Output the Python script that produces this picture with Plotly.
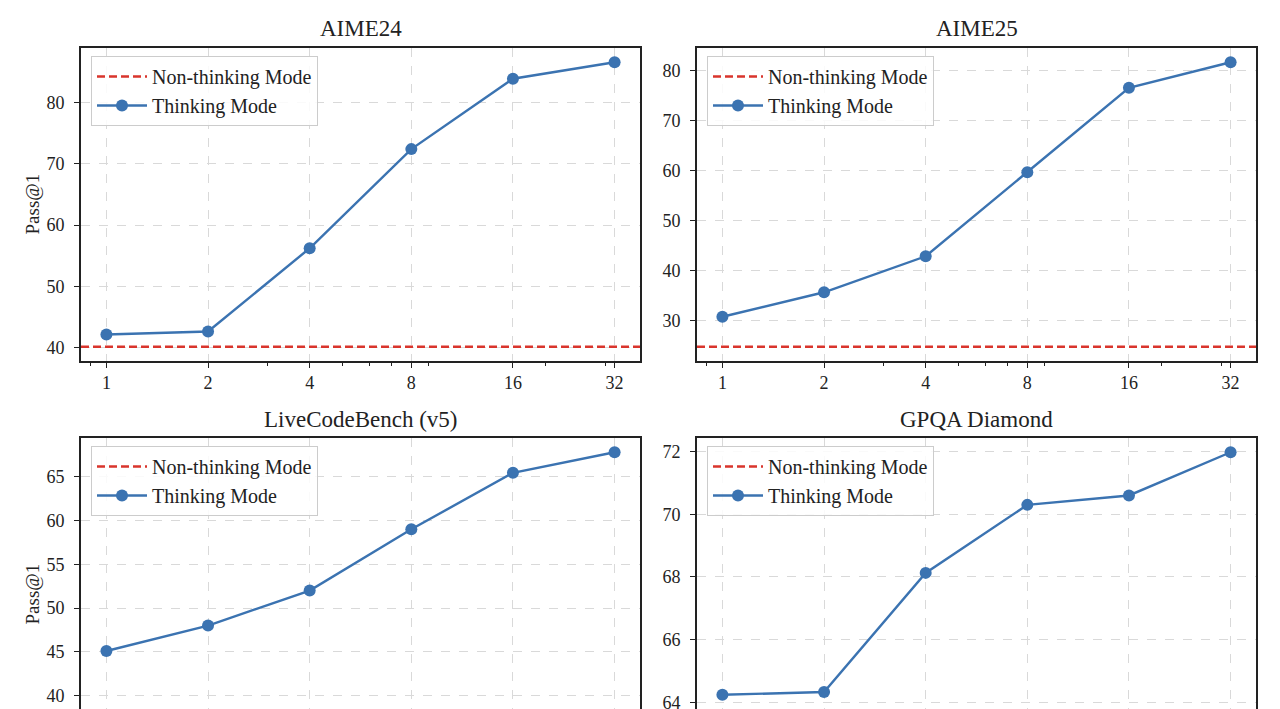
import math
import plotly.graph_objects as go

# ---------------- data ----------------
budgets = [1, 2, 4, 8, 16, 32]
budget_labels = ["1", "2", "4", "8", "16", "32"]
minor_tick_vals = [0.9, 3, 5, 6, 7, 9, 20, 30]

titles = ["AIME24", "AIME25", "LiveCodeBench (v5)", "GPQA Diamond"]
aime24_thinking = [42.1, 42.6, 56.2, 72.4, 83.9, 86.6]
aime25_thinking = [30.7, 35.6, 42.8, 59.6, 76.5, 81.6]
lcb_thinking = [45.1, 48.0, 52.0, 59.0, 65.45, 67.8]
gpqa_thinking = [64.24, 64.33, 68.13, 70.3, 70.6, 71.98]
non_thinking = [40.1, 24.7, 35.3, 62.9]
y_dticks = [10, 10, 5, 2]

thinking_series = [aime24_thinking, aime25_thinking, lcb_thinking, gpqa_thinking]

# ---------------- style ----------------
W, H = 1280, 709
OFF = 8  # page body margin: figure starts at (8, 8) on screen
BLUE = "#3b73b1"
RED = "#d9352c"
GRID = "#d9d9d9"
FRAME = "#222222"
FONT = "Liberation Serif"

# pixel layout of the panels on screen (left, right, top, bottom)
FULL_H = 313
panels_px = [
    (81, 640, 48, 361),
    (697, 1256, 48, 361),
    (81, 640, 438, 438 + FULL_H),
    (697, 1256, 438, 438 + FULL_H),
]

fig = go.Figure()

lx = [math.log2(b) for b in budgets]
lpad = 0.05 * (max(lx) - min(lx))
xrange_log10 = [(min(lx) - lpad) * math.log10(2), (max(lx) + lpad) * math.log10(2)]

legend_names = ["legend", "legend2", "legend3", "legend4"]

for i in range(4):
    L, R, T, B = [v - OFF for v in panels_px[i]]
    vis_B = min(B, H)
    xd = [L / W, R / W]
    yd = [1 - vis_B / H, 1 - T / H]
    ax_suffix = "" if i == 0 else str(i + 1)
    xa = "x" + ax_suffix
    ya = "y" + ax_suffix

    vals = thinking_series[i] + [non_thinking[i]]
    lo, hi = min(vals), max(vals)
    pad = 0.05 * (hi - lo)
    r_lo, r_hi = lo - pad, hi + pad
    if vis_B < B:
        r_lo = r_hi - (r_hi - r_lo) * (vis_B - T) / (B - T)

    leg = legend_names[i]
    fig.add_trace(go.Scatter(x=[None], y=[None], mode="lines", name="Non-thinking Mode",
                             line=dict(color=RED, width=2.3, dash="8px,4px"),
                             xaxis=xa, yaxis=ya, legend=leg, showlegend=True))
    fig.add_shape(type="line", xref=xa + " domain", yref=ya, x0=0, x1=1,
                  y0=non_thinking[i], y1=non_thinking[i],
                  line=dict(color=RED, width=2.3, dash="8px,4px"))
    fig.add_trace(go.Scatter(x=budgets, y=thinking_series[i], mode="lines+markers",
                             name="Thinking Mode",
                             line=dict(color=BLUE, width=2.4),
                             marker=dict(color=BLUE, size=12),
                             xaxis=xa, yaxis=ya, legend=leg, showlegend=True))

    bottom_row = vis_B < B
    xaxis = dict(
        domain=xd, type="log", range=xrange_log10, anchor=ya,
        tickvals=budgets, ticktext=budget_labels,
        showgrid=True, gridcolor=GRID, griddash="dash", gridwidth=1,
        zeroline=False,
        tickfont=dict(family=FONT, size=18, color="#222222"),
    )
    if bottom_row:
        xaxis.update(showline=True, linecolor=FRAME, linewidth=1.6, side="top",
                     mirror=False, ticks="", showticklabels=False)
    else:
        xaxis.update(showline=True, linecolor=FRAME, linewidth=1.6, mirror=True,
                     ticks="outside", ticklen=5, tickwidth=1.3, tickcolor=FRAME,
                     ticklabelstandoff=0,
                     minor=dict(tickvals=minor_tick_vals, ticks="outside", ticklen=3,
                                tickwidth=1, tickcolor=FRAME, showgrid=False))
    yaxis = dict(
        domain=yd, range=[r_lo, r_hi], anchor=xa,
        dtick=y_dticks[i], tick0=0,
        showgrid=True, gridcolor=GRID, griddash="dash", gridwidth=1,
        zeroline=False,
        showline=True, linecolor=FRAME, linewidth=1.6, mirror=True,
        ticks="outside", ticklen=5, tickwidth=1.3, tickcolor=FRAME,
        ticklabelstandoff=6,
        tickfont=dict(family=FONT, size=18, color="#222222"),
    )
    fig.layout["xaxis" + ax_suffix] = xaxis
    fig.layout["yaxis" + ax_suffix] = yaxis

    fig.layout[leg] = dict(
        x=(L + 10) / W, y=1 - (T + 8) / H, xanchor="left", yanchor="top",
        bgcolor="rgba(255,255,255,0.85)", bordercolor="#cccccc", borderwidth=1,
        font=dict(family=FONT, size=20, color="#222222"),
        tracegroupgap=0, itemwidth=50,
    )

    fig.add_annotation(text=titles[i], xref="paper", yref="paper",
                       x=(L + R) / 2 / W, y=1 - (T - 19) / H,
                       xanchor="center", yanchor="middle", showarrow=False,
                       font=dict(family=FONT, size=23, color="#222222"))
    if i % 2 == 0:
        fig.add_annotation(text="Pass@1", xref="paper", yref="paper",
                           x=(32 - OFF) / W, y=1 - ((T + B) / 2) / H, textangle=-90,
                           xanchor="center", yanchor="middle", showarrow=False,
                           font=dict(family=FONT, size=19, color="#222222"))

fig.update_layout(
    width=W, height=H,
    margin=dict(l=0, r=0, t=0, b=0),
    paper_bgcolor="white", plot_bgcolor="white",
)

fig.write_html("out.html")
